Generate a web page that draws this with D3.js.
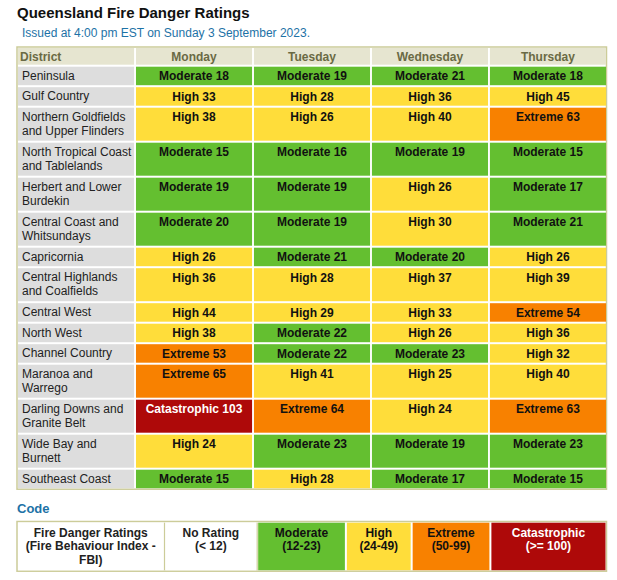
<!DOCTYPE html>
<html><head><meta charset="utf-8">
<script src="https://cdn.jsdelivr.net/npm/d3@7"></script>
<style>
html,body{margin:0;padding:0;background:#fff;}
svg{display:block;font-family:Arial,"Liberation Sans",sans-serif;}
</style></head>
<body>
<svg id="chart" width="617" height="580"></svg>
<script>
// ---------- DATA ----------
const title = "Queensland Fire Danger Ratings";
const subtitle = "Issued at 4:00 pm EST on Sunday 3 September 2023.";
const districts = [
  "Peninsula", "Gulf Country", "Northern Goldfields\nand Upper Flinders",
  "North Tropical Coast\nand Tablelands", "Herbert and Lower\nBurdekin",
  "Central Coast and\nWhitsundays", "Capricornia", "Central Highlands\nand Coalfields",
  "Central West", "North West", "Channel Country", "Maranoa and\nWarrego",
  "Darling Downs and\nGranite Belt", "Wide Bay and\nBurnett", "Southeast Coast"
];
const days = ["Monday", "Tuesday", "Wednesday", "Thursday"];
const monday    = [18, 33, 38, 15, 19, 20, 26, 36, 44, 38, 53, 65, 103, 24, 15];
const tuesday   = [19, 28, 26, 16, 19, 19, 21, 28, 29, 22, 22, 41, 64, 23, 28];
const wednesday = [21, 36, 40, 19, 26, 30, 20, 37, 33, 26, 23, 25, 24, 19, 17];
const thursday  = [18, 45, 63, 15, 17, 21, 26, 39, 54, 36, 32, 40, 63, 23, 15];
const ratingNames = ["No Rating", "Moderate", "High", "Extreme", "Catastrophic"];
const ratingThresholds = [12, 24, 50, 100];
const ratingRanges = ["(< 12)", "(12-23)", "(24-49)", "(50-99)", "(>= 100)"];
const ratingColors = ["#ffffff", "#64bf30", "#ffdd3a", "#f88100", "#ae0909"];
const ratingTextColors = ["#222222", "#111111", "#111111", "#111111", "#ffffff"];
const codeHeader = "Fire Danger Ratings\n(Fire Behaviour Index -\nFBI)";
const codeTitle = "Code";

// ---------- LAYOUT ----------
const svg = d3.select("#chart");
const border = "#cccc99";
const series = [monday, tuesday, wednesday, thursday];

const ratingIndex = d3.scaleThreshold().domain(ratingThresholds).range(d3.range(ratingNames.length));
const colorOf = v => ratingColors[ratingIndex(v)];
const textColorOf = v => ratingTextColors[ratingIndex(v)];
const nameOf = v => ratingNames[ratingIndex(v)];

svg.append("text").attr("x", 17).attr("y", 17.5)
  .attr("font-size", 15).attr("font-weight", "bold").attr("fill", "#111").text(title);
svg.append("text").attr("x", 22).attr("y", 37)
  .attr("font-size", 12).attr("fill", "#1d72a6").text(subtitle);

// columns
const cols = ["District"].concat(days);
const x = d3.scaleBand().domain(cols).range([18, 606]).paddingInner(0.016).paddingOuter(0);

// rows (variable heights from line count)
const lineCount = s => s.split("\n").length;
const headerH = 16.7, singleH = 18.5, lineH = 14.5, gap = 2;
const rowH = districts.map(d => singleH + (lineCount(d) - 1) * lineH);
const tableTop = 48;
const rowTop = [];
let acc = tableTop + headerH + gap;
rowH.forEach(h => { rowTop.push(acc); acc += h + gap; });
const tableBottom = acc - gap;

// outer border
svg.append("rect").attr("x", 17).attr("y", 47).attr("width", 589.5)
  .attr("height", tableBottom - 47 + 1).attr("fill", "none")
  .attr("stroke", border).attr("stroke-width", 1.5);

// header
const hdr = svg.append("g");
hdr.selectAll("rect").data(cols).join("rect")
  .attr("x", d => x(d)).attr("y", tableTop).attr("width", x.bandwidth()).attr("height", headerH)
  .attr("fill", "#e6e5d0");
hdr.selectAll("text").data(cols).join("text")
  .attr("x", (d, i) => i === 0 ? x(d) + 2 : x(d) + x.bandwidth() / 2)
  .attr("text-anchor", (d, i) => i === 0 ? "start" : "middle")
  .attr("y", tableTop + 12.8)
  .attr("font-size", 12).attr("font-weight", "bold").attr("fill", "#6a6a44")
  .text(d => d);

// district cells
const rows = svg.append("g").selectAll("g").data(districts).join("g")
  .attr("transform", (d, i) => `translate(0,${rowTop[i]})`);
rows.append("rect").attr("x", x("District")).attr("y", 0)
  .attr("width", x.bandwidth()).attr("height", (d, i) => rowH[i]).attr("fill", "#dddddd");
rows.append("text").attr("font-size", 12).attr("fill", "#222")
  .selectAll("tspan").data(d => d.split("\n")).join("tspan")
  .attr("x", x("District") + 4).attr("y", (d, j) => 13 + j * 14).text(d => d);

// rating cells
days.forEach((day, di) => {
  const vals = series[di];
  const g = svg.append("g");
  g.selectAll("rect").data(vals).join("rect")
    .attr("x", x(day)).attr("y", (v, i) => rowTop[i])
    .attr("width", x.bandwidth()).attr("height", (v, i) => rowH[i])
    .attr("fill", colorOf);
  g.selectAll("text").data(vals).join("text")
    .attr("x", x(day) + x.bandwidth() / 2).attr("y", (v, i) => rowTop[i] + 13.3)
    .attr("text-anchor", "middle").attr("font-size", 12).attr("font-weight", "bold")
    .attr("fill", textColorOf)
    .text(v => `${nameOf(v)} ${v}`);
});

// ---------- CODE ----------
svg.append("text").attr("x", 17).attr("y", 512.7)
  .attr("font-size", 13).attr("font-weight", "bold").attr("fill", "#1d72a6").text(codeTitle);

const codeCells = [{label: codeHeader, fill: "#ffffff", tc: "#222"}].concat(
  ratingNames.map((n, i) => ({label: n + "\n" + ratingRanges[i], fill: ratingColors[i], tc: ratingTextColors[i] === "#111111" ? "#111" : ratingTextColors[i]})));
const codeWeights = [146, 91, 87, 64, 77, 114.5];
const cum = [0]; codeWeights.forEach(w => cum.push(cum[cum.length - 1] + w));
const totalGap = 2 * (codeWeights.length - 1);
const cx = d3.scaleLinear().domain([0, cum[cum.length - 1]]).range([18, 605.5 - totalGap]);
const codeTop = 522.7, codeH = 47.5;

svg.append("rect").attr("x", 17).attr("y", 521.5).attr("width", 589.5).attr("height", codeH + 2.2)
  .attr("fill", "none").attr("stroke", border).attr("stroke-width", 1.5);

const cg = svg.append("g").selectAll("g").data(codeCells).join("g")
  .attr("transform", (d, i) => `translate(${cx(cum[i]) + 2 * i},${codeTop})`);
cg.append("rect").attr("x", 0).attr("y", 0)
  .attr("width", (d, i) => cx(cum[i + 1]) - cx(cum[i])).attr("height", codeH)
  .attr("fill", d => d.fill);
cg.filter((d, i) => i > 0 && d.fill === "#ffffff").append("line")
  .attr("x1", -1).attr("x2", -1).attr("y1", 0).attr("y2", codeH)
  .attr("stroke", border).attr("stroke-width", 1.2);
cg.filter((d, i) => i === 1).append("line")
  .attr("x1", (d) => cx(cum[2]) - cx(cum[1]) + 1).attr("x2", (d) => cx(cum[2]) - cx(cum[1]) + 1)
  .attr("y1", 0).attr("y2", codeH)
  .attr("stroke", border).attr("stroke-width", 1.2);
cg.append("text").attr("font-size", 12).attr("font-weight", "bold").attr("fill", d => d.tc)
  .attr("text-anchor", "middle")
  .each(function(d, i) {
    const w = cx(cum[i + 1]) - cx(cum[i]);
    d3.select(this).selectAll("tspan").data(d.label.split("\n")).join("tspan")
      .attr("x", w / 2).attr("y", (t, j) => 14 + j * 13.7).text(t => t);
  });
</script>
</body></html>
